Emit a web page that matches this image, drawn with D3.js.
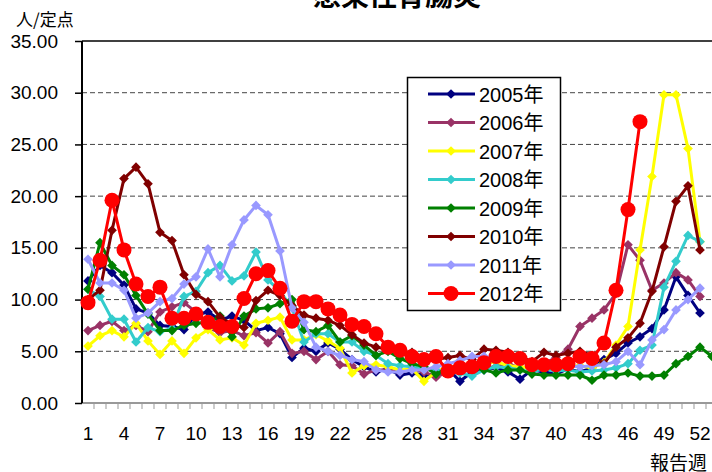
<!DOCTYPE html>
<html>
<head>
<meta charset="utf-8">
<script src="https://cdn.jsdelivr.net/npm/d3@7"></script>
<style>
  body { margin: 0; background: #fff; }
  svg { display: block; font-family: "Liberation Sans", "Noto Sans CJK JP", sans-serif; }
</style>
</head>
<body>
<svg id="chart" width="712" height="472"></svg>
<script>
const WIDTH = 712;
const HEIGHT = 472;

// weeks 1..53 (2009 has a 53rd week)
const weeks = d3.range(1, 54);
const tick_labels = d3.range(1, 53, 3);
const y_ticks = [0, 5, 10, 15, 20, 25, 30, 35];

const series_names = ["2005年", "2006年", "2007年", "2008年", "2009年", "2010年", "2011年", "2012年"];
const series_colors = ["#000080", "#993366", "#ffff00", "#33cccc", "#008000", "#800000", "#9999ff", "#ff0000"];

const v2005 = [11.8, 13.3, 12.6, 11.4, 9.1, 8.7, 7.5, 7.4, 7.1, 8.5, 8.8, 8.0, 8.4, 8.0, 7.0, 7.3, 6.7, 4.4, 5.3, 5.0,
  5.8, 5.2, 4.2, 3.5, 3.0, 3.3, 2.7, 2.9, 2.7, 2.8, 3.3, 2.1, 3.0, 3.2, 3.4, 3.0, 2.3, 3.2, 3.0, 2.8,
  3.3, 3.0, 3.4, 4.2, 4.8, 5.8, 6.4, 7.2, 9.0, 12.2, 10.4, 8.7];
const v2006 = [7.0, 7.5, 7.9, 7.0, 7.5, 6.9, 8.8, 9.3, 9.7, 8.8, 7.3, 6.8, 7.0, 6.5, 6.8, 5.8, 6.9, 4.8, 5.0, 4.2,
  5.0, 3.7, 3.6, 2.8, 3.2, 3.2, 3.0, 3.3, 3.0, 2.5, 3.0, 3.0, 3.2, 3.4, 3.5, 3.8, 3.4, 3.5, 3.8, 4.4,
  5.2, 7.4, 8.2, 9.0, 10.6, 15.3, 13.8, 10.9, 11.6, 12.6, 11.9, 10.3];
const v2007 = [5.5, 6.5, 7.0, 6.4, 7.7, 6.0, 4.7, 6.0, 4.8, 6.3, 7.1, 6.1, 6.3, 5.6, 7.7, 8.0, 8.3, 6.1, 6.1, 6.6,
  6.0, 5.3, 2.9, 3.6, 3.7, 3.5, 3.2, 3.3, 2.1, 3.0, 3.6, 3.4, 3.6, 3.8, 4.0, 3.6, 3.5, 3.3, 3.5, 3.4,
  3.5, 3.6, 3.4, 3.9, 5.6, 7.4, 14.8, 21.9, 29.8, 29.8, 24.6, 15.6];
const v2008 = [11.0, 10.3, 8.1, 8.1, 5.9, 7.3, 6.9, 7.2, 10.3, 10.8, 12.6, 13.3, 11.8, 12.3, 14.6, 11.9, 10.8, 9.2, 5.9, 6.7,
  6.7, 5.9, 5.9, 5.0, 4.6, 3.8, 3.6, 3.5, 3.3, 3.2, 3.0, 2.9, 2.6, 3.2, 3.5, 3.4, 3.2, 3.0, 3.3, 3.1,
  3.2, 3.0, 3.1, 3.2, 3.4, 3.8, 5.1, 5.6, 11.2, 13.7, 16.2, 15.6];
const v2009 = [11.0, 15.5, 13.3, 12.4, 10.4, 8.6, 7.0, 7.0, 7.5, 7.7, 7.8, 8.4, 6.4, 8.4, 9.1, 9.2, 9.6, 10.0, 7.1, 6.9,
  7.5, 5.9, 6.5, 5.6, 4.6, 5.0, 4.3, 3.8, 3.5, 2.8, 3.4, 3.2, 3.5, 3.2, 2.9, 3.2, 3.2, 2.8, 2.7, 2.7,
  2.7, 2.7, 2.2, 2.7, 2.7, 2.9, 2.6, 2.6, 2.7, 3.8, 4.5, 5.4, 4.5];
const v2010 = [10.0, 10.9, 16.7, 21.7, 22.8, 21.2, 16.5, 15.7, 12.4, 10.5, 9.8, 8.3, 7.6, 7.3, 9.9, 10.9, 10.4, 9.4, 8.5, 8.2,
  8.0, 7.5, 6.6, 5.8, 5.4, 5.2, 4.9, 4.9, 4.4, 4.2, 4.4, 4.6, 4.2, 5.2, 5.1, 4.9, 4.5, 4.0, 4.9, 4.6,
  4.8, 5.0, 4.6, 3.8, 5.4, 6.3, 7.7, 10.8, 15.1, 19.5, 21.0, 14.8];
const v2011 = [13.9, 11.6, 11.6, 10.9, 8.2, 8.7, 9.8, 10.1, 11.5, 12.2, 14.9, 12.2, 15.3, 17.7, 19.1, 18.2, 14.7, 9.2, 7.8, 5.4,
  5.0, 4.6, 4.2, 4.0, 3.2, 3.0, 3.0, 3.2, 3.2, 3.5, 3.8, 4.1, 4.5, 4.5, 4.3, 4.4, 4.0, 3.8, 3.6, 3.8,
  3.6, 3.5, 3.6, 3.7, 4.0, 5.0, 3.7, 6.1, 7.1, 9.0, 10.0, 11.1];
const v2012 = [9.7, 13.8, 19.6, 14.8, 11.5, 10.3, 11.2, 8.2, 8.2, 8.6, 7.8, 7.4, 7.4, 10.1, 12.5, 12.8, 11.1, 7.9, 9.8, 9.8,
  9.1, 8.5, 7.6, 7.4, 6.7, 5.4, 5.1, 4.5, 4.2, 4.5, 3.1, 3.4, 3.5, 3.9, 4.5, 4.5, 4.3, 3.7, 3.7, 3.7,
  3.8, 4.5, 4.3, 5.8, 10.9, 18.7, 27.2];

const series_values = [v2005, v2006, v2007, v2008, v2009, v2010, v2011, v2012];

const svg = d3.select("#chart");

const x = d3.scaleBand().domain(weeks).range([82, 82 + 53 * 12]).paddingInner(0).paddingOuter(0);
const y = d3.scaleLinear().domain([0, 35]).range([403, 41]);
const cx = (w) => x(w) + x.bandwidth() / 2;

// Title (partly cut off at the top)
svg.append("text")
  .attr("x", 397).attr("y", 6)
  .attr("text-anchor", "middle")
  .style("font-family", "'Noto Sans CJK JP', sans-serif")
  .style("font-size", "28px").style("font-weight", "bold")
  .text("感染性胃腸炎");

// Unit label
svg.append("text")
  .attr("x", 16).attr("y", 26)
  .style("font-family", "'Noto Sans CJK JP', sans-serif")
  .style("font-size", "17px")
  .text("人/定点");

// Dashed grid lines
svg.append("g")
  .selectAll("line")
  .data(y_ticks.filter((t) => t > 0 && t < 35))
  .join("line")
  .attr("x1", 82).attr("x2", WIDTH)
  .attr("y1", (d) => y(d)).attr("y2", (d) => y(d))
  .style("stroke", "#444").style("stroke-width", 1)
  .style("stroke-dasharray", "5,3");

// Top border
svg.append("line")
  .attr("x1", 82).attr("x2", WIDTH)
  .attr("y1", y(35)).attr("y2", y(35))
  .style("stroke", "#000").style("stroke-width", 1.5);

// X axis (gray)
let x_axis = d3.axisBottom(x)
  .tickValues(tick_labels)
  .tickSize(0)
  .tickPadding(24);
let gx = svg.append("g").attr("transform", `translate(0,${y(0)})`).call(x_axis);
gx.select(".domain").remove();
gx.selectAll("text").style("font-size", "19px").style("fill", "#000");

svg.append("line")
  .attr("x1", 82).attr("x2", WIDTH)
  .attr("y1", y(0)).attr("y2", y(0))
  .style("stroke", "#999").style("stroke-width", 2);

svg.append("g")
  .selectAll("line")
  .data(weeks)
  .join("line")
  .attr("x1", (d) => x(d) + x.bandwidth()).attr("x2", (d) => x(d) + x.bandwidth())
  .attr("y1", y(0)).attr("y2", y(0) + 6)
  .style("stroke", "#999").style("stroke-width", 1);

// Y axis
let y_axis = d3.axisLeft(y)
  .tickValues(y_ticks)
  .tickSize(7)
  .tickPadding(17)
  .tickFormat(d3.format(".2f"));
let gy = svg.append("g").attr("transform", "translate(82,0)").call(y_axis);
gy.select(".domain").attr("d", `M0,${y(35)}V${y(0)}`).style("stroke-width", 2);
gy.selectAll(".tick line").style("stroke-width", 1.5);
gy.selectAll("text").style("font-size", "19px").style("fill", "#000");

// Series
let line = d3.line().x((d) => cx(d.week)).y((d) => y(d.value));
let diamond = d3.symbol().type(d3.symbolDiamond2).size(60);

series_values.forEach((values, i) => {
  let pts = values.map((v, k) => ({ week: weeks[k], value: v }));
  let g = svg.append("g");
  g.append("path")
    .datum(pts)
    .attr("d", line)
    .style("fill", "none")
    .style("stroke", series_colors[i])
    .style("stroke-width", 3);
  if (i === 7) {
    g.selectAll("circle").data(pts).join("circle")
      .attr("cx", (d) => cx(d.week)).attr("cy", (d) => y(d.value))
      .attr("r", 7.5).style("fill", series_colors[i]);
  } else {
    g.selectAll("path.mark").data(pts).join("path")
      .attr("class", "mark")
      .attr("d", diamond)
      .attr("transform", (d) => `translate(${cx(d.week)},${y(d.value)})`)
      .style("fill", series_colors[i]);
  }
});

// Legend
let legend = svg.append("g");
legend.append("rect")
  .attr("x", 407.5).attr("y", 77.5).attr("width", 153).attr("height", 233)
  .style("fill", "#fff").style("stroke", "#000").style("stroke-width", 1.5);

series_names.forEach((name, i) => {
  let ly = 94 + i * 28.5;
  legend.append("line")
    .attr("x1", 428).attr("x2", 475).attr("y1", ly).attr("y2", ly)
    .style("stroke", series_colors[i]).style("stroke-width", 3);
  if (i === 7) {
    legend.append("circle").attr("cx", 451).attr("cy", ly).attr("r", 7.5)
      .style("fill", series_colors[i]);
  } else {
    legend.append("path").attr("d", diamond)
      .attr("transform", `translate(451,${ly})`)
      .style("fill", series_colors[i]);
  }
  legend.append("text")
    .attr("x", 479).attr("y", ly + 7.5)
    .style("font-size", "20px")
    .text(name);
});

// X axis title
svg.append("text")
  .attr("x", 707).attr("y", 470)
  .attr("text-anchor", "end")
  .style("font-family", "'Noto Sans CJK JP', sans-serif")
  .style("font-size", "19px")
  .text("報告週");
</script>
</body>
</html>
